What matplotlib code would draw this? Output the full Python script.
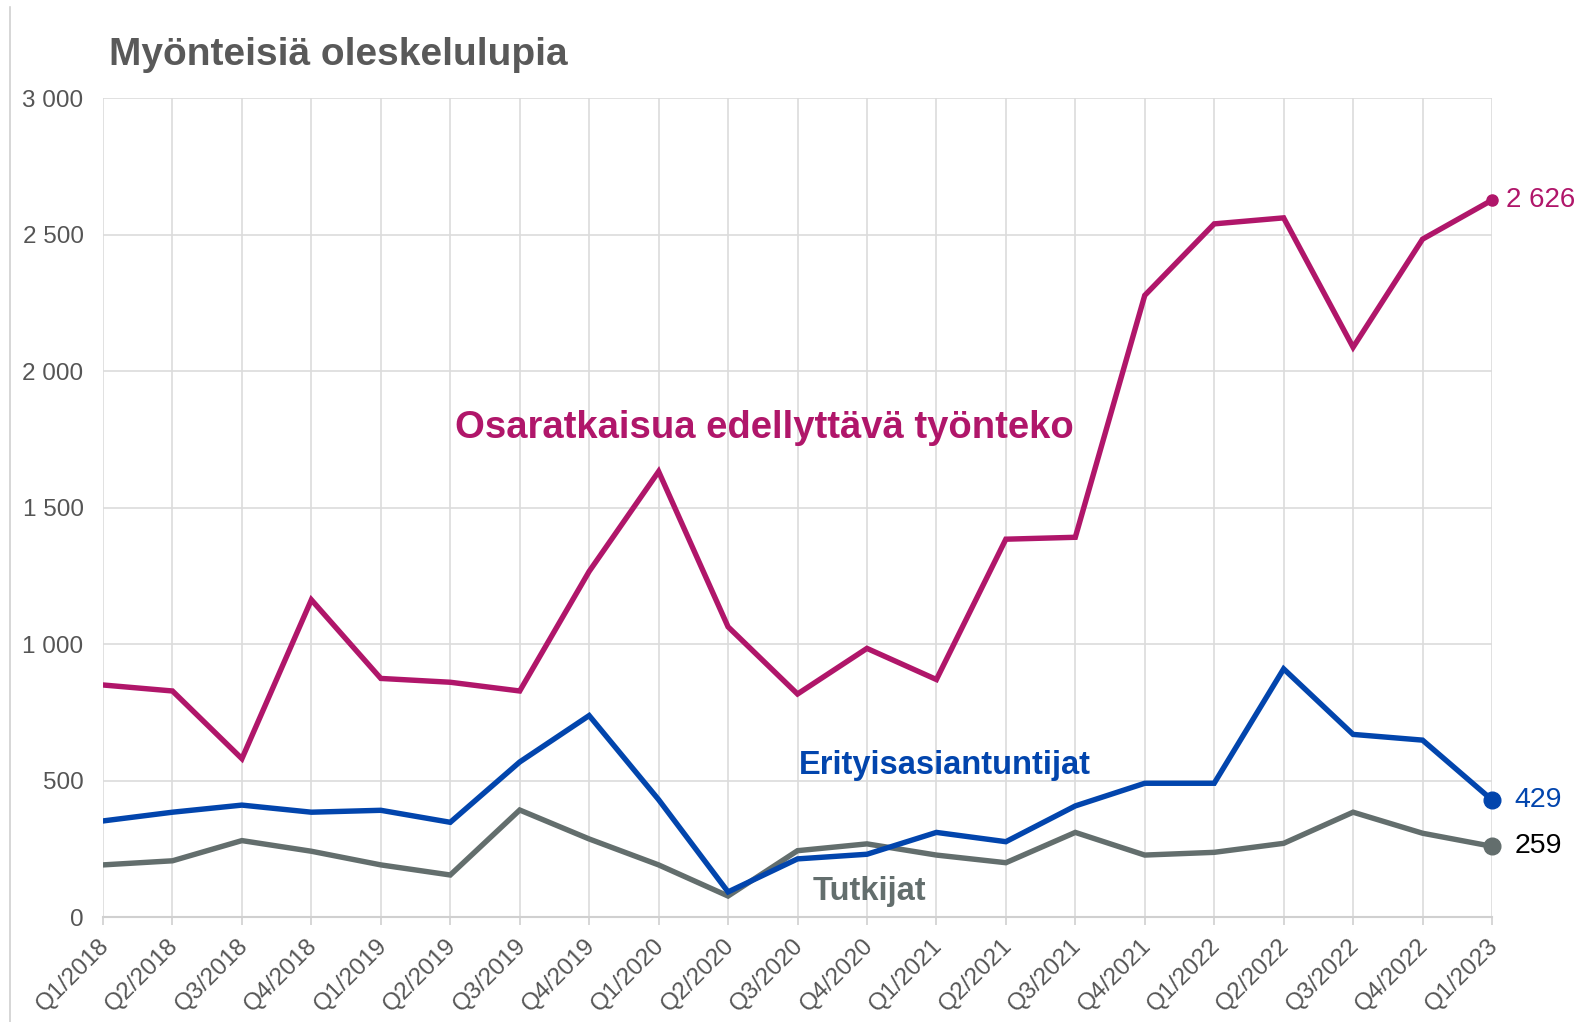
import matplotlib.pyplot as plt
import matplotlib.transforms as mtrans
from matplotlib.lines import Line2D

# quarterly counts of positive residence permits
quarters = ["Q1/2018", "Q2/2018", "Q3/2018", "Q4/2018",
            "Q1/2019", "Q2/2019", "Q3/2019", "Q4/2019",
            "Q1/2020", "Q2/2020", "Q3/2020", "Q4/2020",
            "Q1/2021", "Q2/2021", "Q3/2021", "Q4/2021",
            "Q1/2022", "Q2/2022", "Q3/2022", "Q4/2022",
            "Q1/2023"]
osaratkaisu = [850, 828, 580, 1162, 874, 860, 828, 1266, 1632, 1063, 817,
               984, 870, 1384, 1391, 2277, 2539, 2561, 2087, 2483, 2626]
erityis = [352, 384, 410, 384, 391, 347, 568, 738, 430, 92, 213, 230, 310,
           276, 407, 490, 490, 909, 669, 648, 429]
tutkijat = [191, 206, 280, 241, 191, 154, 392, 286, 191, 77, 243, 268, 227,
            199, 310, 227, 237, 270, 384, 307, 259]
yticks = [0, 500, 1000, 1500, 2000, 2500, 3000]

PINK = "#b0166a"
BLUE = "#0245ad"
GREY = "#636e6d"

plt.rcParams["font.family"] = ["Liberation Sans", "DejaVu Sans"]

fig = plt.figure(figsize=(15.8, 10.22), dpi=100)
ax = fig.add_axes([0.0652, 0.1027, 0.8791, 0.8014])

x = list(range(len(quarters)))
ax.plot(x, osaratkaisu, color=PINK, lw=3.9, solid_joinstyle="miter", zorder=3)
ax.plot(x, tutkijat, color=GREY, lw=3.9, solid_joinstyle="miter", zorder=3)
ax.plot(x, erityis, color=BLUE, lw=3.9, solid_joinstyle="miter", zorder=4)

# end point markers
ax.plot(x[-1], osaratkaisu[-1], "o", color=PINK, ms=8, zorder=5, clip_on=False)
ax.plot(x[-1], erityis[-1], "o", color=BLUE, ms=12, zorder=5, clip_on=False)
ax.plot(x[-1], tutkijat[-1], "o", color=GREY, ms=12, zorder=5, clip_on=False)

ax.annotate("2 626", (x[-1], osaratkaisu[-1]), xytext=(10, 0),
            textcoords="offset points", va="center", fontsize=20, color=PINK)
ax.annotate(str(erityis[-1]), (x[-1], erityis[-1]), xytext=(16, 0),
            textcoords="offset points", va="center", fontsize=20.5, color=BLUE)
ax.annotate(str(tutkijat[-1]), (x[-1], tutkijat[-1]), xytext=(16, 0),
            textcoords="offset points", va="center", fontsize=20.5, color="black")

# series labels inside the plot
ax.text(9.52, 1790, "Osaratkaisua edellyttävä työnteko", color=PINK,
        fontsize=27.5, fontweight="bold", ha="center", va="center")
ax.text(12.12, 555, "Erityisasiantuntijat", color=BLUE,
        fontsize=23.5, fontweight="bold", ha="center", va="center")
ax.text(11.04, 93, "Tutkijat", color=GREY,
        fontsize=23.5, fontweight="bold", ha="center", va="center")

ax.set_xlim(0, len(quarters) - 1)
ax.set_ylim(0, 3000)
ax.set_xticks(x)
ax.set_xticklabels(quarters, rotation=45, ha="right", rotation_mode="anchor")
ax.set_yticks(yticks)
ax.set_yticklabels([f"{v:,}".replace(",", " ") for v in yticks])

ax.grid(True, color="#dcdcdc", lw=1.2)
ax.set_axisbelow(True)
for s in ["top", "right", "left"]:
    ax.spines[s].set_visible(False)
ax.spines["bottom"].set_color("#d0d0d0")
ax.spines["bottom"].set_linewidth(1.5)

ax.tick_params(axis="y", length=0, pad=14, labelsize=17.5, labelcolor="#555555")
ax.tick_params(axis="x", length=6, width=1.2, color="#d0d0d0", pad=4,
               labelsize=17.5, labelcolor="#555555")

# nudge the rotated labels down-left so their ends sit under the ticks
# (has to come after tick_params, which resets the label transforms)
shift = mtrans.ScaledTranslation(-0.05, -0.04, fig.dpi_scale_trans)
for lbl in ax.get_xticklabels():
    lbl.set_transform(lbl.get_transform() + shift)

fig.text(0.069, 0.946, "Myönteisiä oleskelulupia", fontsize=28,
         fontweight="bold", color="#595959", va="center", ha="left")

# thin border on the left edge
fig.add_artist(Line2D([0.0063, 0.0063], [0.0, 0.993], color="#d0d0d0", lw=1.2))

fig.savefig("out.png", dpi=100, facecolor="white")
